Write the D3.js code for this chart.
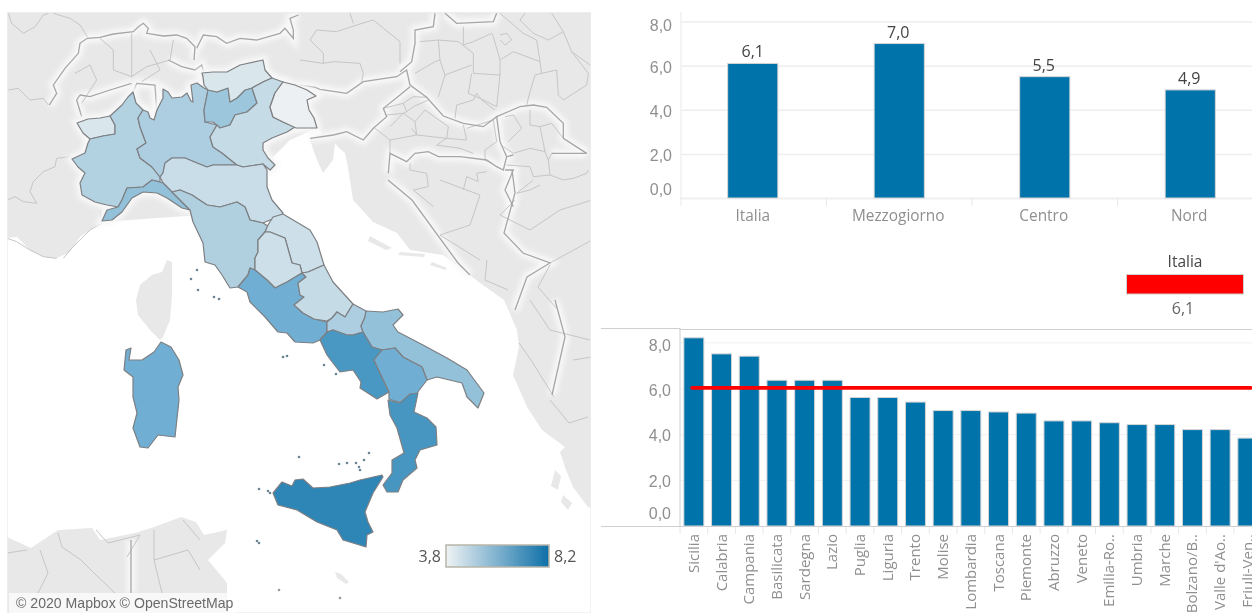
<!DOCTYPE html>
<html><head><meta charset="utf-8">
<script src="https://cdn.jsdelivr.net/npm/d3@7"></script>
<style>
html,body{margin:0;padding:0;background:#fff;overflow:hidden}
svg{display:block;font-family:"Open Sans","Noto Sans",sans-serif}
</style></head><body>
<svg id="c" width="1252" height="613"></svg>
<script>
// ---------- DATA ----------
const areaLabels = ["Italia","Mezzogiorno","Centro","Nord"];
const areaValues = [6.1,7.0,5.5,4.9];
const regionLabels = ["Sicilia","Calabria","Campania","Basilicata","Sardegna","Lazio","Puglia","Liguria","Trento","Molise","Lombardia","Toscana","Piemonte","Abruzzo","Veneto","Emilia-Ro..","Umbria","Marche","Bolzano/B..","Valle d'Ao..","Friuli-Ven.."];
const regionValues = [8.2,7.5,7.4,6.35,6.35,6.35,5.6,5.6,5.4,5.03,5.03,4.97,4.92,4.58,4.58,4.5,4.42,4.42,4.2,4.2,3.83];
const regionCodes = ["SIC","CAL","CAM","BAS","SAR","LAZ","PUG","LIG","TRE","MOL","LOM","TOS","PIE","ABR","VEN","EMR","UMB","MAR","BOZ","VDA","FVG"];
const italiaValue = 6.1;
const italiaLineValue = 6.02;
const yTicks = [0,2,4,6,8];
const legendDomain = [3.8,8.2];
const colourStops = [3.8,5.0,6.4,8.2];
const colourRange = ["#eff1f2","#aecfe0","#6eaed2","#2d86b7"];
const legendRange = ["#eff3f4","#0d6fa8"];
const titleGlyphs = ["g","g","g","p","(",")"];

// Map outlines in map units
const regionOutlines = {
VDA:"77,123 88,119 100,118 110,116 115,125 115,134 103,136 90,139 83,133",
PIE:"133,92 136,103 143,110 138,118 140,127 146,143 137,149 140,158 152,167 160,177 160,182 152,180 143,187 127,188 122,200 118,207 107,205 95,202 82,195 80,183 85,173 78,167 72,159 85,153 88,143 90,139 103,136 115,134 115,125 110,116 122,105 128,97",
LOM:"138,118 143,110 148,112 150,118 154,120 157,110 163,98 163,89 168,92 172,98 182,97 187,93 191,101 193,102 191,85 197,83 204,88 208,90 204,110 205,122 217,125 210,137 213,147 222,153 237,165 213,165 207,167 197,163 185,158 172,158 165,163 163,173 160,177 152,167 140,158 137,149 146,143 140,127",
TRE:"208,90 217,92 228,88 230,102 237,98 245,90 252,88 257,103 247,112 235,115 230,125 220,128 213,122 205,122 204,110",
BOZ:"202,73 213,72 227,72 240,65 263,60 265,70 272,78 263,82 252,88 245,90 237,98 230,102 228,88 217,92 208,90 204,85 203,77",
VEN:"272,78 283,82 275,93 270,107 273,117 283,122 295,127 287,132 272,138 263,143 263,150 268,158 275,165 270,170 263,164 243,167 237,165 222,153 213,147 210,137 217,125 220,128 230,125 235,115 247,112 257,103 252,88 263,82",
FVG:"283,82 295,85 307,90 316,96 307,100 309,110 314,118 317,128 308,128 296,128 283,122 273,117 270,107 275,93",
EMR:"165,163 172,158 185,158 197,163 207,167 213,165 237,165 243,167 263,164 267,170 267,187 272,200 283,213 279,218 270,220 263,223 250,220 245,207 237,202 220,207 207,205 192,195 180,190 172,192 163,183 160,177 163,173",
LIG:"160,182 163,183 172,192 180,200 190,210 182,208 167,198 157,193 143,192 132,198 122,212 112,220 102,221 107,210 118,207 122,200 127,188 143,187 152,180",
TOS:"172,192 180,190 192,195 207,205 220,207 237,202 245,207 250,220 263,223 268,226 265,232 258,240 258,252 255,258 255,270 250,268 248,275 238,287 230,288 222,275 215,265 205,262 203,243 193,222 190,210 180,200",
MAR:"268,225 273,217 283,214 310,230 317,242 324,265 308,272 302,273 300,265 292,263 285,238 270,232 265,232",
UMB:"265,232 270,232 285,238 292,263 300,265 302,273 287,282 275,288 267,280 255,270 255,258 258,252 258,240",
LAZ:"250,268 255,270 267,280 275,288 287,282 302,273 306,277 298,283 300,295 304,297 294,305 303,313 314,319 327,322 327,332 320,340 313,343 295,342 287,333 278,332 265,317 250,302 247,292 238,287 248,275",
ABR:"324,265 333,282 353,304 345,317 337,312 332,318 327,321 314,319 303,313 294,305 304,297 300,295 298,283 306,277 302,273 308,272",
MOL:"353,304 366,311 365,317 361,326 363,332 353,335 347,335 333,330 327,332 327,322 332,318 337,312 345,317",
PUG:"366,311 383,312 398,309 403,315 393,325 398,332 423,345 447,358 467,370 484,393 478,408 467,397 462,383 437,377 427,380 422,367 403,357 395,348 382,350 372,347 363,332 361,326 365,317",
CAM:"327,332 333,330 347,335 353,335 363,332 372,347 382,350 374,360 380,373 389,392 377,399 360,388 361,382 353,370 340,372 333,363 327,355 320,340",
BAS:"382,350 395,348 403,357 422,367 427,380 417,393 410,402 398,402 389,399 389,392 380,373 374,360",
CAL:"388,400 400,403 410,394 418,393 414,412 427,418 436,427 437,445 420,450 415,460 417,468 403,480 398,492 387,492 383,485 392,473 392,460 404,453 397,428 390,415",
SIC:"273,493 282,482 292,486 295,480 303,479 313,488 330,487 350,483 360,480 382,475 383,477 373,493 365,512 368,522 373,532 367,535 366,547 353,543 343,540 337,530 317,522 297,510 278,505",
SAR:"161,342 171,347 179,360 183,375 178,387 179,400 175,437 158,435 148,448 140,447 133,428 137,413 133,397 133,377 124,370 126,350 131,348 129,360 142,360 154,352"
};
const landOutlines = [
"7,12 591,12 591,508 588,507 573,487 566,470 560,452 565,447 542,430 527,407 513,375 519,347 517,330 504,300 490,290 480,283 453,262 443,255 410,250 397,233 373,222 353,200 348,167 345,153 338,147 335,143 333,160 323,173 317,160 310,140 322,133 317,128 290,140 265,165 270,200 200,215 102,222 97,225 80,237 70,252 57,258 43,257 30,250 17,237 7,238",
"167,260 172,262 172,295 170,320 163,337 160,340 150,330 138,315 136,300 140,285 152,275 162,272",
"7,537 31,548 58,530 92,528 100,540 135,533 154,527 181,517 196,522 204,535 227,530 225,543 208,560 227,583 227,613 7,613",
"335,572 341,574 349,582 346,584 337,578",
"555,470 561,476 558,490 551,486",
"563,495 572,503 568,510 561,502",
"370,236 392,248 386,250 368,241","400,252 425,254 424,257 398,255","432,262 447,268 445,270 430,265"
];
const dotIslands = ["197,270","191,279","198,290","214,297","219,299","283,357","287,356","324,365","336,374","257,541","259,543","299,457","339,464","347,463","356,463","359,467","360,470","369,453","364,460","259,489","268,491","270,493"];
const dotGrey = ["340,598","279,590"];

// Borders traced in three map sheets
const strongBorders = [
"z10|148,285 170,250 160,225 195,175 235,130 240,100 262,85 300,82 340,72 400,65 415,50 430,40 445,55 440,70 490,78 530,75 560,85 585,110 582,150",
"z10|590,115 610,75 650,80 680,100 720,85 770,90 840,70 855,55 880,85 880,60 870,25 895,15",
"z10|505,150 545,170 585,180 605,165 612,190 605,215",
"z10|240,255 230,270 245,320",
"z10|400,245 410,220 465,225 470,300 462,330",
"z10|240,255 270,260 330,240 395,220",
"z9|0,225 45,232 60,238 140,250 190,215 290,200 320,180 330,225 380,262 430,318 490,340 550,350 590,320 660,290 700,285 740,292 790,340 790,385 860,430",
"z9|30,385 100,375 140,365 190,390 220,355 260,320 250,295 300,255 330,230",
"z9|265,490 270,430 320,455 345,430 385,425 415,440 480,440 560,450 590,470 610,480 620,440 640,435",
"z9|620,440 600,395 590,320",
"z9|615,480 640,480 615,540 640,590",
"z9|755,430 860,430",
"z9|405,10 400,50 345,60 345,100 335,155 300,185",
"z9|435,10 470,40 580,35 590,10",
"px|388,180 412,200 458,263 470,275",
"px|512,170 515,193 504,233 523,253 550,263 527,277 515,310",
"px|555,300 565,337 552,395",
"px|131,540 131,593"
];
const weakBorders = [
"z10|25,10 35,40 70,70 105,50 130,15 145,10","z10|160,10 210,25 240,45 262,80",
"z10|25,240 55,235 90,270 130,265 145,285","z10|210,440 170,445 165,470 130,485 100,515 90,545 110,580 70,575 45,560 22,570",
"z10|300,600 305,640 270,660 240,690 210,720 190,745","z10|22,685 50,695 90,720 130,740 170,745",
"z10|300,85 340,120 340,180 395,200 440,170 510,150 520,90","z10|395,70 395,200","z10|450,120 480,180 425,215","z10|225,190 270,165 290,210 245,280",
"z9|0,150 70,160 100,155 180,160 190,190 185,215","z9|50,60 30,90 70,130 70,160","z9|50,60 110,65 170,45 220,30 300,95 300,160","z9|150,10 160,40",
"z9|360,95 415,90 475,95 520,130 520,190 600,195","z9|415,90 420,150 435,195 515,165","z9|345,190 405,155 420,150","z9|435,195 415,260",
"z9|515,190 505,250 540,265 590,290 600,195 600,150 580,80 575,70 520,95 490,105 490,50","z9|600,150 640,125 720,155 710,90 670,70 600,10",
"z9|720,155 725,190 705,195 690,245 680,285","z9|725,190 770,180 775,255 790,270 860,225 865,190 815,125 790,65 745,90 700,70 660,30 675,10",
"z9|790,65 765,25 755,10","z9|815,125 870,165","z9|600,75 620,70 635,90 615,105 600,90",
"z9|465,325 470,285 520,270 530,250 545,270 585,300","z9|250,295 310,280 340,260 380,262","z9|310,280 320,305 340,290 385,270","z9|260,315 310,310 320,305",
"z9|270,350 310,310 345,335 375,300 445,350 440,385 350,375 335,355","z9|345,335 350,375 270,390 225,355","z9|270,390 270,430","z9|410,405 440,385 500,390 490,345",
"z9|410,405 480,415 520,430","z9|500,355 580,330 590,395 555,420 555,450 600,475","z9|610,410 640,430 690,415 735,425","z9|720,350 735,425 745,450 750,495 790,510",
"z9|615,320 640,315 665,355 625,395","z9|690,300 690,345 720,350 755,340 790,385","z9|745,450 755,430","z9|620,465 690,470 700,500 750,495","z9|700,510 650,550 690,540 720,525",
"z9|790,510 820,505 860,490 865,480","z9|340,540 385,530 380,490 330,480 330,460","z9|340,540 400,590","z9|490,540 500,500 535,515 530,490 560,485",
"px|487,260 485,280 508,290","px|550,263 592,240","px|550,265 538,287 558,310","px|519,343 531,360 554,397","px|550,400 569,423 588,417","px|573,360 592,357","px|515,200 500,215 530,230 560,210 592,200",
"px|440,180 480,195 470,225 440,235 480,260","px|530,300 550,330 590,340",
"px|40,550 48,573 38,593","px|58,533 62,547 81,560 94,573 115,593","px|96,530 108,543 140,535 127,557","px|154,530 154,560 162,593","px|154,560 188,550 200,570","px|7,553 27,550","px|183,520 200,540"
];

// ---------- HELPERS ----------
const parse = s => s.trim().split(/\s+/).map(p => p.split(",").map(Number));
const sheetX = {z10: d3.scaleLinear([0,3],[0,1]), z9: d3.scaleLinear([0,3],[300,301]), px: d3.scaleLinear([0,1],[0,1])};
const sheetY = {z10: d3.scaleLinear([0,3],[10,11]), z9: d3.scaleLinear([0,3],[10,11]), px: d3.scaleLinear([0,1],[0,1])};
const toLine = s => { const [k,pts]=s.split("|"); return {type:"LineString",coordinates:parse(pts).map(([x,y])=>[sheetX[k](x),sheetY[k](y)])}; };
const toPoly = s => { const p=parse(s); return {type:"Polygon",coordinates:[[...p,p[0]]]}; };
const fmt = d => d3.format(".1f")(d).replace(".",",");

const svg = d3.select("#c");
const defs = svg.append("defs");
const f1 = defs.append("filter").attr("id","halo").attr("filterUnits","userSpaceOnUse").attr("x",0).attr("y",0).attr("width",600).attr("height",613);
f1.append("feGaussianBlur").attr("stdDeviation",2.6);
const f2 = defs.append("filter").attr("id","soft").attr("filterUnits","userSpaceOnUse").attr("x",0).attr("y",0).attr("width",1252).attr("height",613);
f2.append("feGaussianBlur").attr("stdDeviation",0.45);
const grad = defs.append("linearGradient").attr("id","lg");
grad.selectAll("stop").data(legendRange).join("stop").attr("offset",(d,i)=>i?"100%":"0%").attr("stop-color",d=>d);
defs.append("clipPath").attr("id","mapclip").append("rect").attr("x",7).attr("y",12).attr("width",584).attr("height",601);

// ---------- MAP ----------
const geo = d3.geoPath(d3.geoIdentity());
const colour = d3.scaleLinear().domain(colourStops).range(colourRange);
const valueOf = Object.fromEntries(regionCodes.map((c,i)=>[c,regionValues[i]]));
const mapG = svg.append("g").attr("clip-path","url(#mapclip)").append("g").attr("filter","url(#soft)");
mapG.append("rect").attr("x",7).attr("y",12).attr("width",584).attr("height",601).attr("fill","#fff");
mapG.selectAll("path.land").data(landOutlines.map(toPoly)).join("path").attr("class","land").attr("d",geo).attr("fill","#e8e8e8");
const lands = mapG.append("g");
lands.selectAll("path").data(strongBorders.map(toLine)).join("path").attr("d",geo)
  .attr("fill","none").attr("stroke","#f8f8f8").attr("stroke-width",9).attr("filter","url(#halo)");
mapG.selectAll("path.weak").data(weakBorders.map(toLine)).join("path").attr("class","weak").attr("d",geo)
  .attr("fill","none").attr("stroke","#c6c6c6").attr("stroke-width",1);
mapG.selectAll("path.strong").data(strongBorders.map(toLine)).join("path").attr("class","strong").attr("d",geo)
  .attr("fill","none").attr("stroke","#a6a6a6").attr("stroke-width",1.3);
const codes = Object.keys(regionOutlines);
const italyNorth = codes.filter(c=>["VDA","PIE","LOM","TRE","BOZ","VEN","FVG","LIG"].includes(c));
mapG.append("g").selectAll("path").data(italyNorth).join("path").attr("d",c=>geo(toPoly(regionOutlines[c])))
  .attr("fill","#f8f8f8").attr("stroke","#f8f8f8").attr("stroke-width",9).attr("filter","url(#halo)");
mapG.selectAll("path.region").data(codes).join("path").attr("class","region")
  .attr("d",c=>geo(toPoly(regionOutlines[c])))
  .attr("fill",c=>colour(valueOf[c])).attr("stroke","#7d7f82").attr("stroke-width",1.2).attr("stroke-linejoin","round");
mapG.selectAll("circle.isl").data(dotIslands.map(s=>parse(s)[0])).join("circle").attr("class","isl")
  .attr("cx",d=>d[0]).attr("cy",d=>d[1]).attr("r",1.3).attr("fill","#6a8494");
mapG.selectAll("circle.gisl").data(dotGrey.map(s=>parse(s)[0])).join("circle").attr("class","gisl")
  .attr("cx",d=>d[0]).attr("cy",d=>d[1]).attr("r",1.3).attr("fill","#999");
mapG.append("rect").attr("x",7).attr("y",12).attr("width",584).attr("height",601).attr("fill","none").attr("stroke","#eee").attr("stroke-width",1.5);

svg.append("rect").attr("x",9).attr("y",593).attr("width",228).attr("height",20).attr("fill","#fff").attr("fill-opacity",.7);
svg.append("text").attr("x",16).attr("y",608).attr("font-family","Liberation Sans, Arial, sans-serif").attr("font-size",14.1).attr("fill","#6a6a6a").attr("filter","url(#soft)").text("© 2020 Mapbox © OpenStreetMap");

// legend
const lx = d3.scaleLinear().domain(legendDomain).range([446,549]);
const legendG = svg.append("g").attr("filter","url(#soft)");
legendG.append("rect").attr("x",lx(3.8)).attr("y",545).attr("width",lx(8.2)-lx(3.8)).attr("height",22).attr("fill","url(#lg)").attr("stroke","#b8b5a9").attr("stroke-width",1.5);
legendG.append("text").attr("x",lx(3.8)-5).attr("y",562).attr("text-anchor","end").attr("font-size",16).attr("fill","#555").text(fmt(legendDomain[0]));
legendG.append("text").attr("x",lx(8.2)+5).attr("y",562).attr("font-size",16).attr("fill","#555").text(fmt(legendDomain[1]));

// clipped heading: only the descenders are visible in the reference
const titleX = d3.scaleOrdinal().domain(d3.range(6)).range([8,133,168,362,437,490]);
svg.selectAll("text.tt").data(titleGlyphs).join("text").attr("class","tt").attr("x",(d,i)=>titleX(i)).attr("y",-3)
  .attr("font-family","Liberation Sans, Arial").attr("font-weight",700).attr("font-size",17).text(d=>d);

// ---------- TOP BARS ----------
const tx = d3.scaleBand().domain(areaLabels).range([681,1263]);
const ty = d3.scaleLinear().domain([0,8]).range([198,21.5]);
const topG = svg.append("g").attr("filter","url(#soft)");
const styleAxis = (g,zeroDy,topDy) => {
  g.select(".domain").remove();
  g.selectAll(".tick line").attr("stroke","#eeeeee").attr("stroke-width",1.5);
  g.selectAll(".tick text").attr("font-size",16).attr("fill","#8f8f8f").attr("dy",d=>d===0?zeroDy:(d===8?topDy:"0.42em"));
};
topG.append("g").attr("transform","translate(681,0)")
  .call(d3.axisLeft(ty).tickValues(yTicks).tickFormat(fmt).tickSize(-571).tickPadding(9))
  .call(styleAxis,"-0.25em","0.55em");
topG.append("line").attr("x1",681).attr("x2",681).attr("y1",12).attr("y2",199).attr("stroke","#f0f0f0").attr("stroke-width",1.5);
topG.append("line").attr("x1",681).attr("x2",1252).attr("y1",198.5).attr("y2",198.5).attr("stroke","#eeeeee").attr("stroke-width",1.5);
const tBreaks = areaLabels.map(d=>tx(d));
topG.selectAll("line.t").data(tBreaks).join("line").attr("class","t").attr("x1",d=>d).attr("x2",d=>d).attr("y1",198).attr("y2",206).attr("stroke","#e8e8e8");
const tBarW = tx.bandwidth()*0.345;
topG.selectAll("rect.b").data(areaValues).join("rect").attr("class","b")
  .attr("x",(d,i)=>tx(areaLabels[i])+tx.bandwidth()/2-tBarW/2+(i?0:-1)).attr("width",tBarW)
  .attr("y",d=>ty(d)).attr("height",d=>ty(0)-ty(d))
  .attr("fill","#0073aa").attr("stroke","#d6d6d6").attr("stroke-width",1);
topG.selectAll("text.v").data(areaValues).join("text").attr("class","v")
  .attr("x",(d,i)=>tx(areaLabels[i])+tx.bandwidth()/2-1).attr("y",d=>ty(d)-6).attr("text-anchor","middle")
  .attr("font-size",16).attr("fill","#444").text(fmt);
topG.selectAll("text.c").data(areaLabels).join("text").attr("class","c")
  .attr("x",d=>tx(d)+tx.bandwidth()/2-1).attr("y",221).attr("text-anchor","middle")
  .attr("font-size",15.4).attr("fill","#8f8f8f").text(d=>d);

// ---------- ITALIA KEY ----------
const keyG = svg.append("g").attr("filter","url(#soft)");
keyG.append("text").attr("x",1185).attr("y",267).attr("text-anchor","middle").attr("font-size",15.5).attr("fill","#444").text(areaLabels[0]);
keyG.append("rect").attr("x",1126.5).attr("y",274.5).attr("width",117).attr("height",19.5).attr("fill","#ff0000").attr("stroke","#d0d0d0");
keyG.append("text").attr("x",1183).attr("y",314).attr("text-anchor","middle").attr("font-size",16).attr("fill","#666").text(fmt(italiaValue));

// ---------- REGION BARS ----------
const rx = d3.scaleBand().domain(regionLabels).range([680,680+27.7*regionLabels.length]);
const ry = d3.scaleLinear().domain([0,8]).range([526,342.4]);
const low = svg.append("g").attr("filter","url(#soft)");
low.append("g").attr("transform","translate(680,0)")
  .call(d3.axisLeft(ry).tickValues(yTicks).tickFormat(fmt).tickSize(-572).tickPadding(9))
  .call(g=>{styleAxis(g,"-0.5em","0.5em");g.selectAll(".tick line").attr("stroke","#f1f1f1").attr("stroke-width",1);});
low.append("path").attr("d",d3.line()([[601,328.5],[680,328.5],[680,329.5],[1252,329.5]])).attr("fill","none").attr("stroke","#cfcfcf").attr("stroke-width",1.2);
low.append("line").attr("x1",680).attr("x2",680).attr("y1",329).attr("y2",526).attr("stroke","#d5d5d5").attr("stroke-width",1.2);
low.append("line").attr("x1",601).attr("x2",1252).attr("y1",526.5).attr("y2",526.5).attr("stroke","#cfcfcf").attr("stroke-width",1.2);
low.selectAll("line.t").data(regionLabels).join("line").attr("class","t").attr("x1",d=>rx(d)).attr("x2",d=>rx(d)).attr("y1",527).attr("y2",534).attr("stroke","#e8e8e8");
const rBarW = 20;
low.selectAll("rect.b").data(regionValues).join("rect").attr("class","b")
  .attr("x",(d,i)=>rx(regionLabels[i])+rx.bandwidth()/2-rBarW/2).attr("width",rBarW)
  .attr("y",d=>ry(d)).attr("height",d=>ry(0)-ry(d))
  .attr("fill","#0073aa").attr("stroke","#d6d6d6").attr("stroke-width",1);
low.append("line").attr("x1",692).attr("x2",1251).attr("y1",ry(italiaLineValue)).attr("y2",ry(italiaLineValue))
  .attr("stroke","#ff0000").attr("stroke-width",3.6).attr("stroke-linecap","round");
low.selectAll("text.c").data(regionLabels).join("text").attr("class","c")
  .attr("transform",d=>`translate(${rx(d)+rx.bandwidth()/2+5},534) rotate(-90)`).attr("text-anchor","end")
  .attr("font-size",15).attr("fill","#8f8f8f").text(d=>d);
</script>
</body></html>
